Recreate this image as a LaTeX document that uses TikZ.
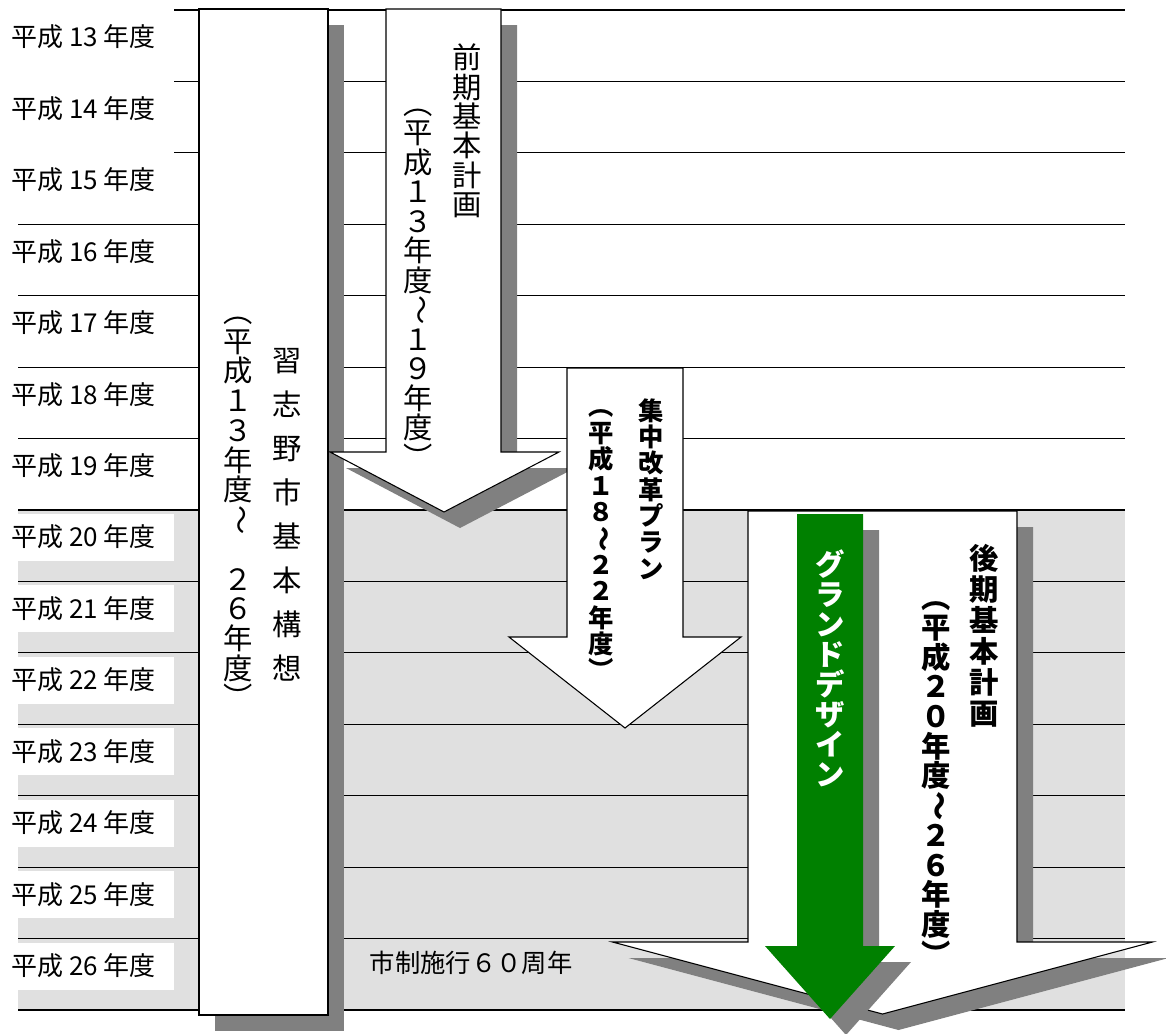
\documentclass[tikz,border=0pt]{standalone}
\usepackage{fontspec}
\setmainfont{Noto Sans CJK JP}

\definecolor{obigray}{RGB}{224,224,224}
\definecolor{kagegray}{RGB}{128,128,128}
\definecolor{gdgreen}{RGB}{0,128,0}
\newcommand{\nami}{\tikz[baseline={([yshift=-0.36em]nm.center)}]\node[rotate=-90,inner sep=0pt] (nm) {～};}

\begin{document}
\begin{tikzpicture}[x=0.75pt,y=-0.75pt,
  sen/.style={line width=0.75pt},
  kage/.style={fill=kagegray},
  hako/.style={draw=black,line width=0.8pt,fill=white},
  tate/.style={align=center,inner sep=0pt},
  nendo/.style={anchor=west,inner sep=0pt,font=\fontsize{19.5pt}{19.5pt}\selectfont}]
 \useasboundingbox (0,0) rectangle (1166,1033);
 % nendo no obi
 \fill[obigray] (18,510) rectangle (1125,1010);
 \foreach \i in {7,...,13}
   \fill[white] (18,{14+71.43*\i}) rectangle (174,{61+71.43*\i});
 \foreach \i in {0,1,2}
   \draw[sen] (174,{10+71.43*\i}) -- (1125,{10+71.43*\i});
 \foreach \i in {3,...,14}
   \draw[sen] (18,{10+71.43*\i}) -- (1125,{10+71.43*\i});
 \draw[line width=1.5pt] (174,10) -- (1125,10);
 \draw[line width=2pt] (18,510) -- (1125,510);
 \draw[line width=1.2pt] (18,1010) -- (1125,1010);
 \foreach \n [count=\i from 0] in {13,...,26}
   \node[nendo] (nen\n) at (11,{37+71.43*\i}) {平成 \n\ 年度};

 % kihon kousou
 \fill[kage] (215,25) rectangle (344,1031);
 \draw[hako] (199,9) rectangle (328,1015);
 % zenki
 \fill[kage,shift={(16,16)}] (386,9)--(501,9)--(501,452)--(559,452)--(444,512)--(330,452)--(386,452)--cycle;
 \draw[hako] (386,9)--(501,9)--(501,452)--(559,452)--(444,512)--(330,452)--(386,452)--cycle;
 % shuchu kaikaku
 \draw[hako] (567,368)--(683,368)--(683,637)--(741,637)--(625,728)--(509,637)--(567,637)--cycle;
 % kouki
 \fill[kage,shift={(16,16)}] (748,511)--(1017,511)--(1017,942)--(1152.5,942)--(882.5,1014)--(612.5,942)--(748,942)--cycle;
 \draw[hako] (748,511)--(1017,511)--(1017,942)--(1152.5,942)--(882.5,1014)--(612.5,942)--(748,942)--cycle;
 % grand design
 \fill[kage,shift={(16,16)}] (797,514)--(863,514)--(863,946)--(895,946)--(830,1019)--(765,946)--(797,946)--cycle;
 \fill[gdgreen] (797,514)--(863,514)--(863,946)--(895,946)--(830,1019)--(765,946)--(797,946)--cycle;

 % moji
 \node[tate,font=\fontsize{22pt}{33pt}\selectfont] (kousou) at (287,515)
   {習\\志\\野\\市\\基\\本\\構\\想};
 \node[tate,font=\fontsize{22pt}{22.3pt}\selectfont] (kousouki) at (238,513)
   {︵\\平\\成\\１\\３\\年\\度\\\nami\\\mbox{}\\２\\６\\年\\度\\︶};
 \node[tate,font=\fontsize{22pt}{22.1pt}\selectfont] (zenki) at (467,131)
   {前\\期\\基\\本\\計\\画};
 \node[tate,font=\fontsize{22pt}{22.1pt}\selectfont] (zenkiki) at (418,288.5)
   {︵\\平\\成\\１\\３\\年\\度\\\nami\\１\\９\\年\\度\\︶};
 \node[tate,font=\fontsize{19pt}{19.75pt}\selectfont\bfseries] (shuchu) at (651,489)
   {集\\中\\改\\革\\プ\\ラ\\ン};
 \node[tate,font=\fontsize{19pt}{19.8pt}\selectfont\bfseries] (shuchuki) at (601,545)
   {︵\\平\\成\\１\\８\\\nami\\２\\２\\年\\度\\︶};
 \node[tate,font=\fontsize{22pt}{23.2pt}\selectfont\bfseries] (kouki) at (984,635.5)
   {後\\期\\基\\本\\計\\画};
 \node[tate,font=\fontsize{22pt}{22.3pt}\selectfont\bfseries] (koukiki) at (936,783.5)
   {︵\\平\\成\\２\\０\\年\\度\\\nami\\２\\６\\年\\度\\︶};
 \node[tate,text=white,font=\fontsize{22pt}{22.5pt}\selectfont\bfseries] (grand) at (830,668)
   {グ\\ラ\\ン\\ド\\デ\\ザ\\イ\\ン};
 \node[inner sep=0pt,font=\fontsize{19pt}{19pt}\selectfont] (shisei) at (471,963)
   {市制施行６０周年};
\end{tikzpicture}
\end{document}
